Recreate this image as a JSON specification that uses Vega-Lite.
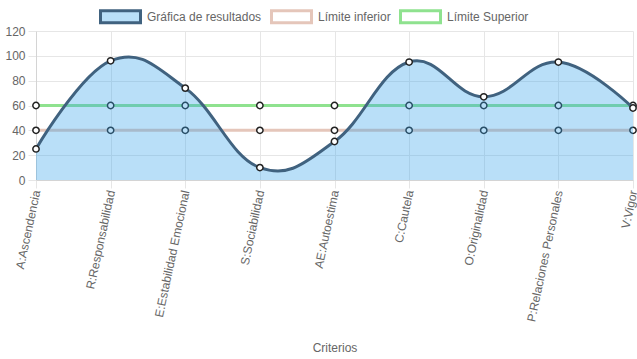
{
  "$schema": "https://vega.github.io/schema/vega-lite/v6.json",
  "width": 597,
  "height": 149,
  "autosize": {"type": "none"},
  "padding": {"left": 36, "top": 31, "right": 4, "bottom": 179},
  "background": "white",
  "config": {
    "font": "Liberation Sans",
    "view": {"stroke": null},
    "axis": {
      "labelColor": "#666666",
      "labelFontSize": 12,
      "titleColor": "#666666",
      "titleFontSize": 12,
      "titleFontWeight": "normal",
      "gridColor": "#e6e6e6",
      "tickColor": "#e6e6e6",
      "domainColor": "#d4d4d4",
      "tickSize": 8
    }
  },
  "data": {
    "values": [
      {"criterio": "A:Ascendencia", "serie": "Gráfica de resultados", "valor": 25},
      {"criterio": "R:Responsabilidad", "serie": "Gráfica de resultados", "valor": 96},
      {"criterio": "E:Estabilidad Emocional", "serie": "Gráfica de resultados", "valor": 74},
      {"criterio": "S:Sociabilidad", "serie": "Gráfica de resultados", "valor": 10},
      {"criterio": "AE:Autoestima", "serie": "Gráfica de resultados", "valor": 31},
      {"criterio": "C:Cautela", "serie": "Gráfica de resultados", "valor": 95},
      {"criterio": "O:Originalidad", "serie": "Gráfica de resultados", "valor": 67},
      {"criterio": "P:Relaciones Personales", "serie": "Gráfica de resultados", "valor": 95},
      {"criterio": "V:Vigor", "serie": "Gráfica de resultados", "valor": 58},
      {"criterio": "A:Ascendencia", "serie": "Límite inferior", "valor": 40},
      {"criterio": "R:Responsabilidad", "serie": "Límite inferior", "valor": 40},
      {"criterio": "E:Estabilidad Emocional", "serie": "Límite inferior", "valor": 40},
      {"criterio": "S:Sociabilidad", "serie": "Límite inferior", "valor": 40},
      {"criterio": "AE:Autoestima", "serie": "Límite inferior", "valor": 40},
      {"criterio": "C:Cautela", "serie": "Límite inferior", "valor": 40},
      {"criterio": "O:Originalidad", "serie": "Límite inferior", "valor": 40},
      {"criterio": "P:Relaciones Personales", "serie": "Límite inferior", "valor": 40},
      {"criterio": "V:Vigor", "serie": "Límite inferior", "valor": 40},
      {"criterio": "A:Ascendencia", "serie": "Límite Superior", "valor": 60},
      {"criterio": "R:Responsabilidad", "serie": "Límite Superior", "valor": 60},
      {"criterio": "E:Estabilidad Emocional", "serie": "Límite Superior", "valor": 60},
      {"criterio": "S:Sociabilidad", "serie": "Límite Superior", "valor": 60},
      {"criterio": "AE:Autoestima", "serie": "Límite Superior", "valor": 60},
      {"criterio": "C:Cautela", "serie": "Límite Superior", "valor": 60},
      {"criterio": "O:Originalidad", "serie": "Límite Superior", "valor": 60},
      {"criterio": "P:Relaciones Personales", "serie": "Límite Superior", "valor": 60},
      {"criterio": "V:Vigor", "serie": "Límite Superior", "valor": 60}
    ]
  },
  "encoding": {
    "x": {
      "field": "criterio",
      "type": "nominal",
      "sort": ["A:Ascendencia", "R:Responsabilidad", "E:Estabilidad Emocional", "S:Sociabilidad", "AE:Autoestima", "C:Cautela", "O:Originalidad", "P:Relaciones Personales", "V:Vigor"],
      "scale": {"type": "point", "padding": 0},
      "axis": {
        "title": "Criterios",
        "titleY": 167,
        "titleBaseline": "middle",
        "labelAngle": -78,
        "labelPadding": 2,
        "labelLimit": 0,
        "grid": true
      }
    },
    "y": {
      "field": "valor",
      "type": "quantitative",
      "scale": {"domain": [0, 120], "nice": false},
      "axis": {"title": null, "values": [0, 20, 40, 60, 80, 100, 120], "labelPadding": 3, "grid": true}
    }
  },
  "layer": [
    {
      "transform": [{"filter": "datum.serie !== 'Gráfica de resultados'"}],
      "mark": {"type": "line", "strokeWidth": 3},
      "encoding": {
        "stroke": {
          "field": "serie",
          "type": "nominal",
          "scale": {"domain": ["Gráfica de resultados", "Límite inferior", "Límite Superior"], "range": ["#40627f", "#e5c6ba", "#8fe28f"]},
          "legend": {
            "orient": "none",
            "legendX": 63,
            "legendY": -36,
            "direction": "horizontal",
            "title": null,
            "symbolType": "M-1,-0.3H1V0.3H-1Z",
            "symbolSize": 1600,
            "symbolStrokeWidth": 3,
            "labelFontSize": 12,
            "labelColor": "#666666",
            "labelOffset": 5,
            "columnPadding": 3
          }
        }
      }
    },
    {
      "transform": [{"filter": "datum.serie !== 'Gráfica de resultados'"}],
      "mark": {"type": "circle", "size": 40, "fill": "white", "stroke": "#222222", "strokeWidth": 1.5, "opacity": 1}
    },
    {
      "transform": [{"filter": "datum.serie === 'Gráfica de resultados'"}],
      "mark": {"type": "area", "interpolate": "cardinal", "tension": -0.2},
      "encoding": {
        "fill": {
          "field": "serie",
          "type": "nominal",
          "scale": {"domain": ["Gráfica de resultados", "Límite inferior", "Límite Superior"], "range": ["rgba(54,162,235,0.35)", "rgba(255,255,255,1)", "rgba(255,255,255,1)"]},
          "legend": {
            "orient": "none",
            "legendX": 63,
            "legendY": -36,
            "direction": "horizontal",
            "title": null,
            "symbolType": "M-1,-0.3H1V0.3H-1Z",
            "symbolSize": 1600,
            "symbolStrokeWidth": 3,
            "labelFontSize": 12,
            "labelColor": "#666666",
            "labelOffset": 5,
            "columnPadding": 3
          }
        }
      }
    },
    {
      "transform": [{"filter": "datum.serie === 'Gráfica de resultados'"}],
      "mark": {"type": "line", "strokeWidth": 3, "interpolate": "cardinal", "tension": -0.2},
      "encoding": {
        "stroke": {"field": "serie", "type": "nominal"}
      }
    },
    {
      "transform": [{"filter": "datum.serie === 'Gráfica de resultados'"}],
      "mark": {"type": "circle", "size": 40, "fill": "white", "stroke": "#222222", "strokeWidth": 1.5, "opacity": 1}
    }
  ]
}
